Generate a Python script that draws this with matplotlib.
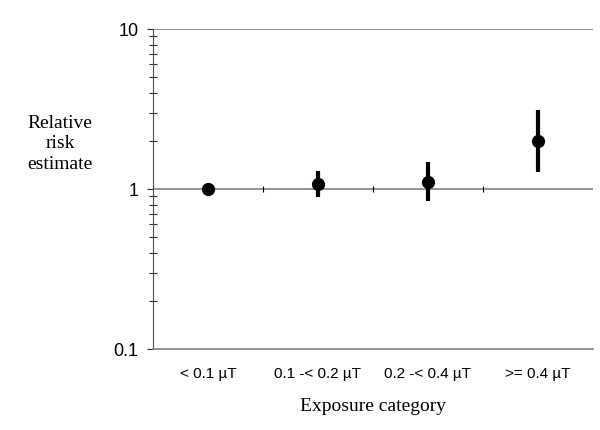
import numpy as np
import matplotlib.pyplot as plt
from matplotlib.ticker import LogLocator, NullFormatter, FixedLocator, FixedFormatter

# exposure categories and relative risk estimates with 95% CI
categories = ['< 0.1 µT', '0.1 -< 0.2 µT', '0.2 -< 0.4 µT', '>= 0.4 µT']
rr = [1.0, 1.07, 1.10, 2.0]
ci_low = [1.0, 0.89, 0.84, 1.27]
ci_high = [1.0, 1.30, 1.47, 3.12]

fig = plt.figure(figsize=(6, 4.3), dpi=100)
ax = fig.add_axes([153/600, 1 - 349/430, 440/600, 320/430])

x = np.arange(len(categories)) + 0.5
rr = np.array(rr)
yerr = [rr - np.array(ci_low), np.array(ci_high) - rr]

ax.set_yscale('log')
ax.set_ylim(0.1, 10)
ax.set_xlim(0, len(categories))

# reference lines at 1 and 10
ax.axhline(1, color='#808080', lw=1.2, zorder=1)
ax.axhline(10, color='#808080', lw=1.2, zorder=1)
# category separators on the line at 1
bounds = np.arange(1, len(categories))
ax.vlines(bounds, 0.96, 1.04, color='black', lw=0.8, zorder=1)

ax.errorbar(x, rr, yerr=yerr, fmt='o', color='black', ms=8.5,
            elinewidth=3, capsize=0, zorder=3)

for s in ['top', 'right']:
    ax.spines[s].set_visible(False)
ax.spines['left'].set_color('#505050')
ax.spines['bottom'].set_color('#808080')
ax.spines['bottom'].set_linewidth(1.2)

ax.yaxis.set_major_locator(FixedLocator([0.1, 1, 10]))
ax.yaxis.set_major_formatter(FixedFormatter(['0.1', '1', '10']))
ax.yaxis.set_minor_locator(LogLocator(base=10, subs=np.arange(2, 10)))
ax.yaxis.set_minor_formatter(NullFormatter())
ax.tick_params(axis='y', which='major', direction='out', length=4.5, width=0.8,
               labelsize=13, pad=6, color='#303030')
ax.tick_params(axis='y', which='minor', direction='inout', length=6, width=0.8,
               color='#303030')

ax.set_xticks(x)
ax.set_xticklabels(categories, fontsize=11)
ax.tick_params(axis='x', length=0, pad=13)

for lab in ax.get_xticklabels() + ax.get_yticklabels():
    lab.set_family('Liberation Sans')

ax.set_xlabel('Exposure category', family='Liberation Serif', fontsize=14, labelpad=12)
fig.text(60/600, 1 - 144/430, 'Relative\nrisk\nestimate', family='Liberation Serif',
         fontsize=14, ha='center', va='center', linespacing=1.3)

fig.savefig('out.png', dpi=100)
